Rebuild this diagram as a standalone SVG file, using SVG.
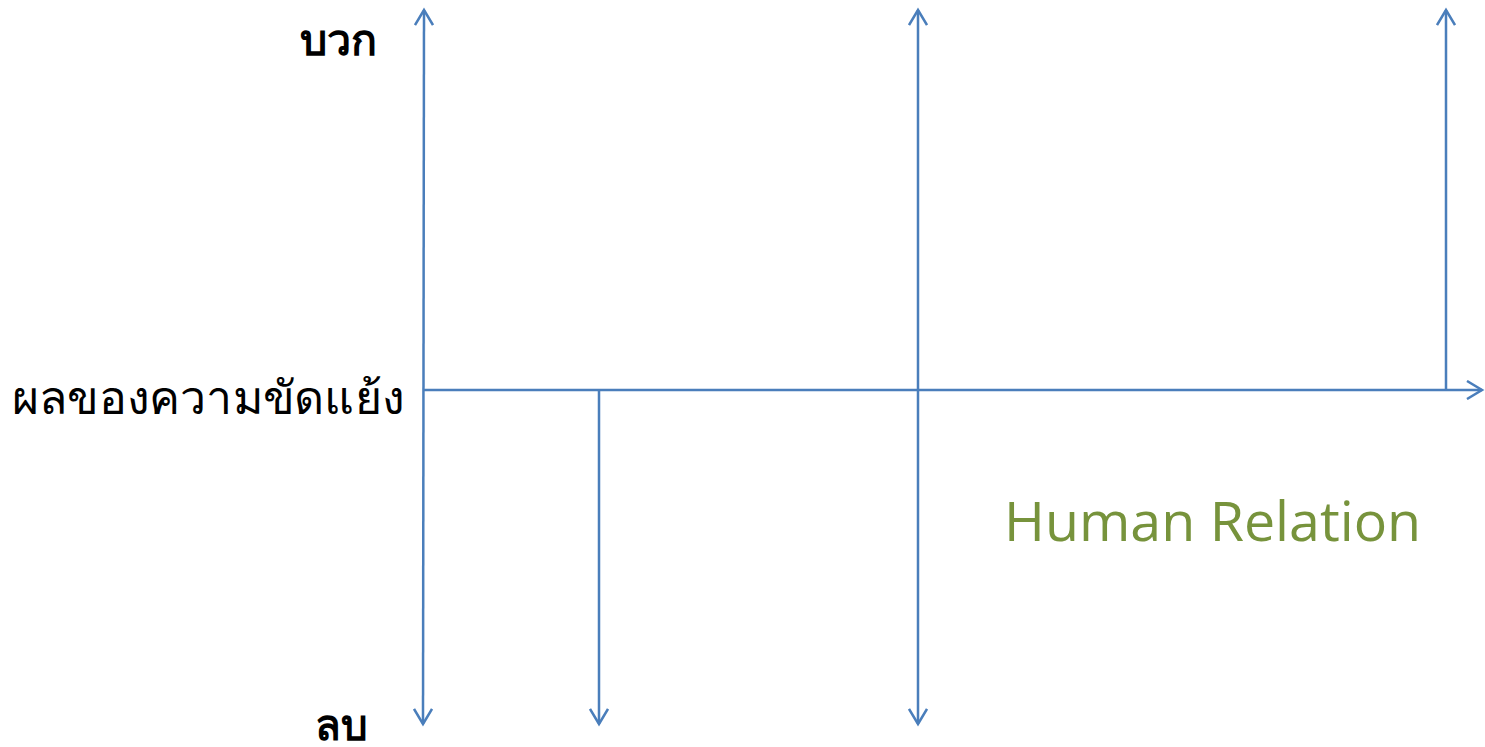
<svg xmlns="http://www.w3.org/2000/svg" width="1485" height="747" viewBox="0 0 1485 747">
<style>
.ax{stroke:#4a7ebb;stroke-width:2.5;fill:none}
.th{font-family:"Noto Sans","Liberation Sans",sans-serif;fill:#000}
.b{font-weight:bold}
.hr{font-family:"Open Sans","Noto Sans",sans-serif;fill:#77933c}
</style>
<defs>
<marker id="ah" viewBox="0 0 20 20" refX="16" refY="10" markerWidth="20" markerHeight="20" markerUnits="userSpaceOnUse" orient="auto-start-reverse">
<path d="M1,1 L16,10 L1,19" fill="none" stroke="#4a7ebb" stroke-width="2.5"/>
</marker>
</defs>
<rect width="1485" height="747" fill="#fff"/>
<g id="connectors">
<line class="ax" x1="424" y1="10" x2="423" y2="724" marker-start="url(#ah)" marker-end="url(#ah)"/>
<line class="ax" x1="424" y1="390" x2="1482" y2="390" marker-end="url(#ah)"/>
<line class="ax" x1="599" y1="390" x2="599" y2="724" marker-end="url(#ah)"/>
<line class="ax" x1="918" y1="10" x2="918" y2="724" marker-start="url(#ah)" marker-end="url(#ah)"/>
<line class="ax" x1="1446" y1="390" x2="1446" y2="10" marker-end="url(#ah)"/>
</g>
<g id="label-positive"><text class="th b" x="300" y="55" font-size="43">บวก</text></g>
<g id="label-y"><text class="th" x="12" y="414" font-size="46" textLength="392" lengthAdjust="spacingAndGlyphs">ผลของความขัดแย้ง</text></g>
<g id="label-negative"><text class="th b" x="315" y="740" font-size="42">ลบ</text></g>
<g id="label-hr"><text class="hr" x="1004" y="541" font-size="55.5">Human Relation</text></g>
</svg>
